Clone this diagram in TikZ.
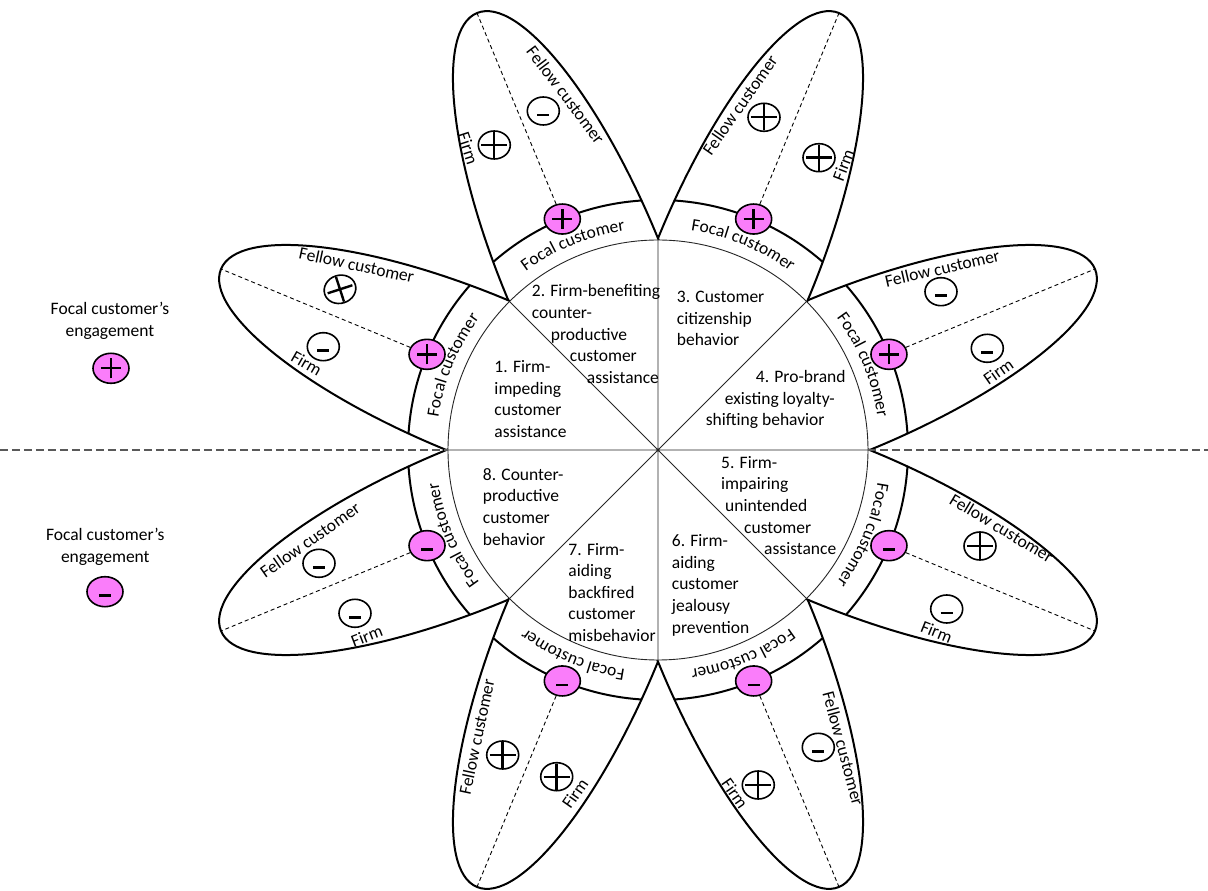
\documentclass[tikz,border=0pt]{standalone}
\usepackage{fontspec}
\setmainfont{Carlito}
\usetikzlibrary{shapes.geometric, decorations.text}
\definecolor{focalpink}{RGB}{250,125,250}
\newcommand{\labfont}{\fontsize{17.5}{21.6}\selectfont}
\tikzset{
petal/.style={draw, line width=2pt, fill=white}, % one leaf of the flower
band/.style={line width=2pt}, % outer rim of the focal customer ring
spoke/.style={line width=0.9pt, draw=black!85},
midline/.style={dash pattern=on 8pt off 4pt, line width=1.4pt, draw=black!65}, % splits + and - engagement
axisline/.style={dash pattern=on 4pt off 3pt, line width=0.9pt},
pinkdot/.style={ellipse, draw, line width=1.6pt, fill=focalpink, minimum width=36pt, minimum height=30pt, inner sep=0pt},
signdot/.style={ellipse, draw, line width=1.6pt, fill=white, minimum width=32pt, minimum height=28pt, inner sep=0pt},
plusmark/.style={path picture={\draw[line width=2.4pt]
  ([xshift=-#1pt]path picture bounding box.center) -- ([xshift=#1pt]path picture bounding box.center)
  ([yshift=-#1pt]path picture bounding box.center) -- ([yshift=#1pt]path picture bounding box.center);}},
plusmark/.default=10,
bigplus/.style={plusmark=13}, % the cross in the white marks is larger
tiltplus/.style={bigplus, rotate=18}, % one cross is drawn askew
minusmark/.style={path picture={\draw[line width=2.6pt]
  ([xshift=-6pt,yshift=-4pt]path picture bounding box.center) -- ([xshift=6pt,yshift=-4pt]path picture bounding box.center);}},
lab/.style={font=\labfont, inner sep=0pt},
sector/.style={font=\labfont, align=left, inner sep=0pt, anchor=base west}, % anchored at the last line
}

\begin{document}
\begin{tikzpicture}[x=1pt, y=1pt]
\useasboundingbox (-658,-441) rectangle (550,450);

% petals with the focal customer rim
\foreach \ang in {22.5,67.5,...,337.5} {
  \draw[petal, rotate=\ang] (200,0) ellipse [x radius=273, y radius=81];
  \begin{scope}
    \clip[rotate=\ang] (200,0) ellipse [x radius=273, y radius=81];
    \draw[band] (0,0) circle [radius=250];
  \end{scope}
}

% the eight behaviours
\node[circle, draw=black!85, line width=0.9pt, fill=white, minimum size=420pt, inner sep=0pt, outer sep=0pt] (hub) at (0,0) {};
\draw[spoke] (hub.0) -- (hub.180) (hub.45) -- (hub.225) (hub.90) -- (hub.270) (hub.135) -- (hub.315);

\coordinate (westend) at (-658,0);
\coordinate (eastend) at (550,0);
\draw[midline] (westend) -- (hub.180) (hub.0) -- (eastend);

\node[sector] (s1) at (-163.7,12.5) {1. Firm-\\impeding\\customer\\assistance};
\node[sector] (s2) at (-126.3,66.6) {2. Firm-benefiting\\counter-\\\hspace*{19pt}productive\\\hspace*{38pt}customer\\\hspace*{55pt}assistance};
\node[sector] (s3) at (18.7,104.1) {3. Customer\\citizenship\\behavior};
\node[sector] (s4) at (47.7,24.1) {\hspace*{50pt}4. Pro-brand\\\hspace*{19pt}existing loyalty-\\shifting behavior};
\node[sector] (s5) at (63,-104.7) {5. Firm-\\impairing\\\hspace*{4pt}unintended\\\hspace*{23pt}customer\\\hspace*{43pt}assistance};
\node[sector] (s6) at (13.7,-183.1) {6. Firm-\\aiding\\customer\\jealousy\\prevention};
\node[sector] (s7) at (-89.7,-191.4) {7. Firm-\\aiding\\backfired\\customer\\misbehavior};
\node[sector] (s8) at (-175.3,-95.1) {8. Counter-\\productive\\customer\\behavior};

% focal customer marks and petal axes
\foreach \ang/\i/\mk in {157.5/1/plusmark, 112.5/2/plusmark, 67.5/3/plusmark, 22.5/4/plusmark,
    -22.5/5/minusmark, -67.5/6/minusmark, -112.5/7/minusmark, -157.5/8/minusmark} {
  \coordinate (tip\i) at (\ang:473);
  \node[pinkdot, \mk] (focal\i) at (\ang:250) {};
  \draw[axisline] (focal\i) -- (tip\i);
  \path[decorate, decoration={text along path, text align=center, text={|\labfont|Focal customer}}]
    (\ang+24:222) arc [start angle=\ang+24, end angle=\ang-24, radius=222];
}

% fellow customer and firm
\foreach \x/\y/\r/\i in {-301.3/185/-12/1, -92.3/355/-53/2, 82/345/55/3, 284.3/181.7/13/4,
    343.7/-78.3/-31/5, 185.3/-298.3/-75/6, -181.3/-286.7/78/7, -348/-90/35/8}
  \node[lab, rotate=\r] (fellow\i) at (\x,\y) {Fellow customer};
\foreach \x/\y/\r/\i in {-351.3/86.7/-30/1, -189.7/301.7/-72/2, 185.3/285/69/3, 340.3/78.3/35/4,
    278.7/-181.7/-22/5, 77/-343.3/-55/6, -83/-343.3/55/7, -291.3/-186/21/8}
  \node[lab, rotate=\r] (firm\i) at (\x,\y) {Firm};

\foreach \x/\y/\mk/\i in {-318/160.7/tiltplus/1, -114.7/339/minusmark/2, 106/332.7/bigplus/3, 283/158.3/minusmark/4,
    322/-96/bigplus/5, 160.3/-297.3/minusmark/6, -155.3/-305/bigplus/7, -339/-113.3/minusmark/8}
  \node[signdot, \mk] (fellowsign\i) at (\x,\y) {};
\foreach \x/\y/\mk/\i in {-334.7/103.3/minusmark/1, -163.7/305/bigplus/2, 161/292.3/bigplus/3, 329.3/101.7/minusmark/4,
    288.7/-159/minusmark/5, 100.3/-335/bigplus/6, -101.3/-326.7/bigplus/7, -303/-163.3/minusmark/8}
  \node[signdot, \mk] (firmsign\i) at (\x,\y) {};

% legend
\node[lab, align=center] (legplus) at (-548,129.2) {Focal customer's\\engagement};
\node[pinkdot, plusmark] (legplusdot) at (-547,81.7) {};
\node[lab, align=center] (legminus) at (-552.7,-96.7) {Focal customer's\\engagement};
\node[pinkdot, minusmark] (legminusdot) at (-553,-141.7) {};
\end{tikzpicture}
\end{document}
